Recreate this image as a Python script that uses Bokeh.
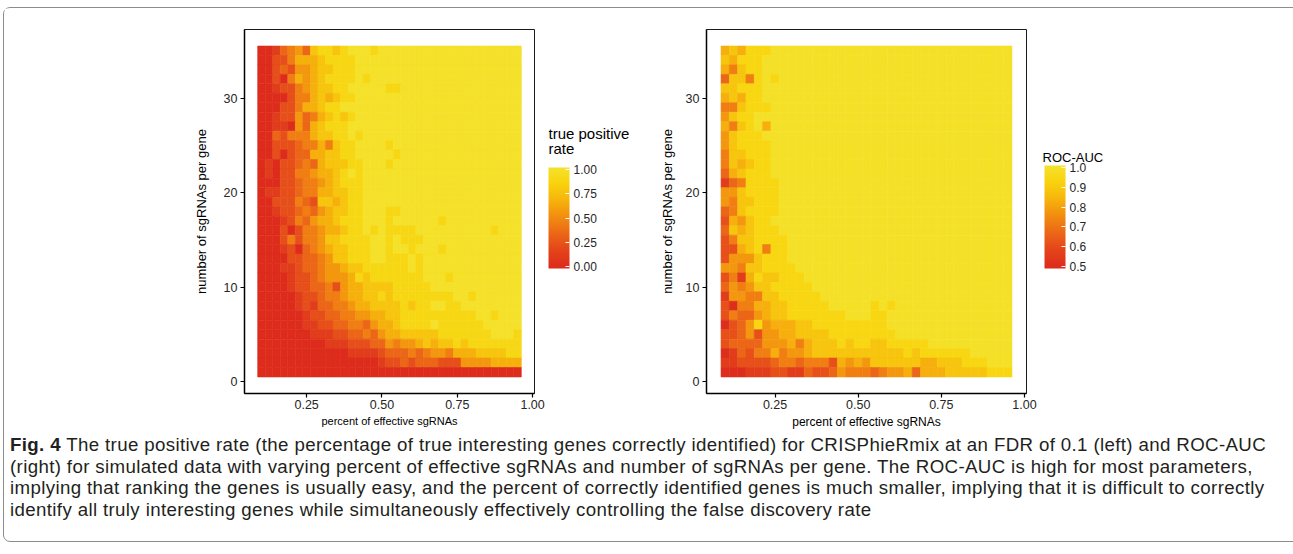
from bokeh.plotting import figure
from bokeh.models import (ColumnDataSource, LinearColorMapper, ColorBar, FixedTicker,
                          PrintfTickFormatter, Div, Range1d, Label)
from bokeh.layouts import column, row
from bokeh.embed import file_html
from bokeh.resources import INLINE

# ---------------- data ----------------
pct_effective = [0.100, 0.125, 0.150, 0.175, 0.200, 0.225, 0.250, 0.275, 0.300, 0.325,
                 0.350, 0.375, 0.400, 0.425, 0.450, 0.475, 0.500, 0.525, 0.550, 0.575,
                 0.600, 0.625, 0.650, 0.675, 0.700, 0.725, 0.750, 0.775, 0.800, 0.825,
                 0.850, 0.875, 0.900, 0.925, 0.950]
n_sgrnas = [35, 34, 33, 32, 31, 30, 29, 28, 27, 26, 25, 24, 23, 22, 21, 20, 19, 18,
            17, 16, 15, 14, 13, 12, 11, 10, 9, 8, 7, 6, 5, 4, 3, 2, 1]

# true positive rate, one string per row (top row = 35 sgRNAs), digit d -> d/9
tpr_rows = [
    "00134537887899989" "999999999999999999",
    "00224666788889999" "999999999999999999",
    "00232556778889999" "999999999999999999",
    "00204656788889899" "999999999999999999",
    "00122456778899999" "889999999999999999",
    "00002446767889999" "999999999999999999",
    "00022466788999999" "999999999999999999",
    "00122534678789999" "999999999999999999",
    "00110536788899999" "999999999999999999",
    "00324446778898999" "999999999999999999",
    "00222344647889999" "899999999999999999",
    "00202336677889999" "989999999999999999",
    "01022343677788999" "899999999999999999",
    "01022445667898999" "999999999999999999",
    "00022344567888999" "999999999999999999",
    "01122344667788999" "999999999999999999",
    "00222432776788999" "999999999999999999",
    "00122343567788999" "889999999999999999",
    "00012435667888999" "899999989999999999",
    "00020244566788989" "888899999999998999",
    "00024244577888899" "898889999999999999",
    "00012034567788899" "899899989999999999",
    "00002233457788899" "888989999999999999",
    "00011233455677888" "888989999999999999",
    "00001223455568788" "888889998999999999",
    "00001223342566777" "788888999999999999",
    "00000122344566778" "788888888998999999",
    "00000121334456677" "778788998899999999",
    "00000012233445566" "778888888888998999",
    "00000011223344356" "678888988888899999",
    "00000001112233435" "667777788888889998",
    "00000000011122233" "545567677878888888",
    "00000000000011112" "333434554666777788",
    "00000000000000001" "223233322255556666",
    "00000000000000000" "000000000000000000",
]

# ROC-AUC, one string per row (top row = 35 sgRNAs), digit d -> 0.5 + d/18
auc_rows = [
    "676888999999999999" "99999999999999999",
    "768889999999999999" "99999999999999999",
    "647889999999999999" "99999999999999999",
    "377489899999999999" "99999999999999999",
    "778889999999999999" "99999999999999999",
    "676889999999999999" "99999999999999999",
    "447888999999999999" "99999999999999999",
    "578899999999999999" "99999999999999999",
    "647896999999999999" "99999999999999999",
    "578889999999999999" "99999999999999999",
    "578888999999999999" "99999999999999999",
    "477888999999999999" "99999999999999999",
    "476788999999999999" "99999999999999999",
    "367888999999999999" "99999999999999999",
    "134888899999999999" "99999999999999999",
    "557888899999999999" "99999999999999999",
    "547788899999999999" "99999999999999999",
    "347888899999999999" "99999999999999999",
    "265788999999999999" "99999999999999999",
    "376788899999999999" "99999999999999999",
    "247788889999999999" "99999999999999999",
    "226784889999999999" "99999999999999999",
    "255578889999999999" "99999999999999999",
    "554778888999999999" "99999999999999999",
    "241687788899999999" "99999999999999999",
    "354577888889999999" "99999999999999999",
    "155447788888999999" "99999999999999999",
    "204466778888899999" "89899999999999999",
    "243356778888888999" "88999999999999999",
    "023585666778888888" "88999999999999999",
    "223525566777788888" "88899999999999999",
    "233335556467778788" "77888889999999999",
    "013244645567777777" "77778788888899999",
    "112222344344426565" "77777766777888999",
    "000111221132235444" "34556366677777888",
]

x_ticks = [0.25, 0.50, 0.75, 1.00]
y_ticks = [0, 10, 20, 30]
tpr_ticks = [0.00, 0.25, 0.50, 0.75, 1.00]
auc_ticks = [0.5, 0.6, 0.7, 0.8, 0.9, 1.0]

caption_lines = [
    "The true positive rate (the percentage of true interesting genes correctly identified) for CRISPhieRmix at an FDR of 0.1 (left) and ROC-AUC",
    "(right) for simulated data with varying percent of effective sgRNAs and number of sgRNAs per gene. The ROC-AUC is high for most parameters,",
    "implying that ranking the genes is usually easy, and the percent of correctly identified genes is much smaller, implying that it is difficult to correctly",
    "identify all truly interesting genes while simultaneously effectively controlling the false discovery rate",
]

# ---------------- colours ----------------
STOPS = [(0.00, (220, 42, 28)), (0.20, (229, 72, 26)), (0.40, (238, 115, 20)),
         (0.55, (243, 150, 14)), (0.70, (247, 185, 12)), (0.85, (248, 212, 14)),
         (1.00, (245, 226, 44))]


def make_palette(n=256):
    out = []
    for i in range(n):
        t = i / (n - 1)
        c = STOPS[-1][1]
        for (t0, c0), (t1, c1) in zip(STOPS[:-1], STOPS[1:]):
            if t0 <= t <= t1:
                f = (t - t0) / (t1 - t0)
                c = tuple(round(a + (b - a) * f) for a, b in zip(c0, c1))
                break
        out.append("#%02x%02x%02x" % tuple(c))
    return out


PAL = make_palette()
FONT = "Liberation Sans"
FIG_H = 425


def source_from(rows, decode):
    xs, ys, vs = [], [], []
    for yv, r in zip(n_sgrnas, rows):
        for xv, ch in zip(pct_effective, r):
            xs.append(xv)
            ys.append(yv)
            vs.append(decode(int(ch)))
    return ColumnDataSource(dict(x=xs, y=ys, v=vs))


def make_panel(rows, decode, mapper, border_left, frame_w, xlab_size, ylab_standoff):
    p = figure(width=border_left + frame_w + 14, height=FIG_H,
               output_backend="svg", toolbar_location=None,
               x_range=Range1d(0.04375, 1.00625), y_range=Range1d(-1.25, 37.25),
               min_border_left=border_left, min_border_right=14,
               min_border_top=21, min_border_bottom=40)
    src = source_from(rows, decode)
    p.rect(x="x", y="y", width=0.025, height=1.0, source=src,
           fill_color={"field": "v", "transform": mapper},
           line_color={"field": "v", "transform": mapper}, line_width=0.6)
    p.grid.visible = False
    p.outline_line_color = "#1a1a1a"
    p.outline_line_width = 1
    p.outline_line_alpha = 1
    p.xaxis.ticker = FixedTicker(ticks=x_ticks)
    p.xaxis.formatter = PrintfTickFormatter(format="%.2f")
    p.yaxis.ticker = FixedTicker(ticks=y_ticks)
    p.xaxis.axis_label = "percent of effective sgRNAs"
    p.yaxis.axis_label = "number of sgRNAs per gene"
    for ax in (p.xaxis[0], p.yaxis[0]):
        ax.axis_line_color = "black"
        ax.axis_line_width = 1.5
        ax.major_tick_line_color = "black"
        ax.major_tick_line_width = 1.2
        ax.major_tick_out = 4
        ax.major_tick_in = 0
        ax.minor_tick_out = 0
        ax.minor_tick_in = 0
        ax.major_label_text_font = FONT
        ax.major_label_text_font_size = "12.5px"
        ax.major_label_text_color = "#262626"
        ax.axis_label_text_font = FONT
        ax.axis_label_text_font_style = "normal"
        ax.axis_label_text_color = "black"
    p.xaxis.axis_label_text_font_size = xlab_size
    p.yaxis.axis_label_text_font_size = "13px"
    p.xaxis.major_label_standoff = 2
    p.xaxis.axis_label_standoff = 3
    p.yaxis.major_label_standoff = 3
    p.yaxis.axis_label_standoff = ylab_standoff
    return p


def make_legend(width, mapper, ticks, fmt, bar_h, bar_x, bar_bottom_page,
                titles, title_x, title_tops_page, title_size):
    # a bare figure that holds one colour bar and its title (page y measured from top)
    top_page = 8
    L = figure(width=width, height=FIG_H, output_backend="svg", toolbar_location=None,
               x_range=Range1d(0, width), y_range=Range1d(0, FIG_H),
               x_axis_type=None, y_axis_type=None,
               min_border=0, min_border_left=0, min_border_right=0,
               min_border_top=0, min_border_bottom=0)
    L.grid.visible = False
    L.outline_line_color = None
    cb = ColorBar(color_mapper=mapper, ticker=FixedTicker(ticks=ticks),
                  formatter=PrintfTickFormatter(format=fmt),
                  width=21, height=bar_h, padding=0, margin=0,
                  location=(bar_x, top_page + FIG_H - 40 - bar_bottom_page),
                  major_label_text_font=FONT, major_label_text_font_size="12px",
                  major_label_text_color="#262626", label_standoff=4,
                  major_tick_in=4, major_tick_out=0, major_tick_line_color="white",
                  major_tick_line_width=1, minor_tick_line_color=None,
                  bar_line_color=None, border_line_color=None,
                  background_fill_alpha=0)
    L.add_layout(cb, "center")
    for text, tp in zip(titles, title_tops_page):
        L.add_layout(Label(x=title_x, y=top_page + FIG_H - tp, text=text,
                           text_font=FONT, text_font_size=title_size, text_color="black",
                           text_align="left", text_baseline="top"))
    return L


tpr_mapper = LinearColorMapper(palette=PAL, low=-0.017, high=1.017)
auc_mapper = LinearColorMapper(palette=PAL, low=0.488, high=1.012)

p1 = make_panel(tpr_rows, lambda d: d / 9.0, tpr_mapper, 240, 290, "11px", 12)   # x 4..548
L1 = make_legend(100, tpr_mapper, tpr_ticks, "%.2f", 101, 0, 268,
                 ["true positive", "rate"], 0, [120, 137], "15px")              # x 548..648
p2 = make_panel(auc_rows, lambda d: 0.5 + d / 18.0, auc_mapper, 58, 320, "12px", 8)  # x 648..1040
L2 = make_legend(249, auc_mapper, auc_ticks, "%.1f", 103, 4, 268,
                 ["ROC-AUC"], 2, [149], "13px")                                 # x 1040..1289

cap_html = ('<div style="font-family:\'Liberation Sans\';font-size:18.7px;line-height:21.5px;'
            'letter-spacing:0.36px;color:#231f20;white-space:nowrap;'
            'margin-left:1px;margin-top:-4px;">'
            '<b>Fig. 4</b> ' + caption_lines[0] + '<br>' + caption_lines[1] + '<br>' +
            caption_lines[2] + '<br>' + caption_lines[3] + '</div>')
caption = Div(text=cap_html, width=1285, height=98)

layout = column(row(p1, L1, p2, L2), caption,
                styles={"border": "1px solid #8c8c8c", "border-radius": "7px",
                        "margin-left": "3px", "margin-top": "7px"})

with open("out.html", "w") as f:
    f.write(file_html(layout, INLINE))
